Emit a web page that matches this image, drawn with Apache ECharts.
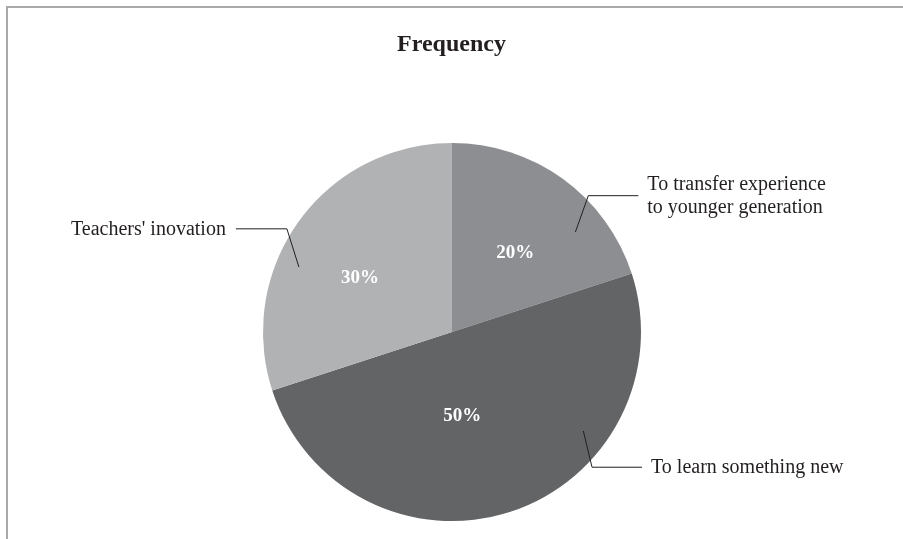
<!DOCTYPE html>
<html>
<head>
<meta charset="utf-8">
<script src="https://cdn.jsdelivr.net/npm/echarts@6/dist/echarts.min.js"></script>
<style>
  html, body { margin: 0; padding: 0; background: #fff; }
  #charts { width: 903px; height: 539px; }
</style>
</head>
<body>
<div id="charts"></div>
<script>
// data
var categories = ['To transfer experience\nto younger generation', 'To learn something new', "Teachers' inovation"];
var values = [20, 50, 30];
var sliceColors = ['#8d8e91', '#636466', '#b1b2b4'];

var CX = 452, CY = 332, R = 189;
var FONT = '"Liberation Serif", "DejaVu Serif", serif';

// leader lines: angle offsets (deg) from the slice middle, radius as fraction of R
var leaders = [
    { startOff: 15, startR: 0.84, bendOff: 9, bendR: 1.02 },
    { startOff: -35, startR: 0.87, bendOff: -28, bendR: 1.03 },
    { startOff: -13, startR: 0.88, bendOff: -4, bendR: 1.03 }
];
// nudges for the percentage labels
var pctNudge = [[6, 0], [-20, -9], [-13, 3]];

var total = values.reduce(function (a, b) { return a + b; }, 0);
var midAngles = [];
var acc = 0;
values.forEach(function (v) {
    midAngles.push((acc + v / 2) / total * 360);
    acc += v;
});

function polar(angleDeg, r) {
    var a = angleDeg * Math.PI / 180;
    return [CX + r * Math.sin(a), CY - r * Math.cos(a)];
}

var pieData = categories.map(function (c, i) {
    return { name: c, value: values[i] };
});

var option = {
    animation: false,
    backgroundColor: '#fff',
    title: {
        text: 'Frequency',
        left: 'center',
        top: 28,
        textStyle: {
            fontFamily: FONT,
            fontWeight: 'bold',
            fontSize: 24,
            color: '#231f20'
        }
    },
    graphic: [{
        type: 'rect',
        shape: { x: 7, y: 7, width: 1200, height: 1200 },
        style: { fill: 'none', stroke: '#a9a9a9', lineWidth: 2 },
        silent: true
    }],
    series: [
        {
            type: 'pie',
            z: 2,
            center: [CX, CY],
            radius: R,
            startAngle: 90,
            clockwise: true,
            color: sliceColors,
            data: pieData,
            label: {
                show: true,
                position: 'inside',
                formatter: '{d}%',
                color: '#fff',
                fontFamily: FONT,
                fontWeight: 'bold',
                fontSize: 19
            },
            labelLine: { show: false },
            labelLayout: function (params) {
                var n = pctNudge[params.dataIndex];
                return { dx: n[0], dy: n[1] };
            },
            emphasis: { disabled: true }
        },
        {
            type: 'pie',
            z: 5,
            center: [CX, CY],
            radius: R,
            startAngle: 90,
            clockwise: true,
            silent: true,
            data: pieData,
            itemStyle: { color: 'rgba(0,0,0,0)' },
            label: {
                show: true,
                position: 'outside',
                formatter: '{b}',
                color: '#231f20',
                fontFamily: FONT,
                fontSize: 20,
                lineHeight: 23
            },
            labelLine: {
                show: true,
                length: 5,
                length2: 5,
                lineStyle: { color: '#231f20', width: 1 }
            },
            labelLayout: function (params) {
                var i = params.dataIndex;
                var ld = leaders[i];
                var mid = midAngles[i];
                var p0 = polar(mid + ld.startOff, R * ld.startR);
                var p1 = polar(mid + ld.bendOff, R * ld.bendR);
                var right = p1[0] > CX;
                var p2 = [p1[0] + (right ? 50 : -51), p1[1]];
                return {
                    x: p2[0] + (right ? 9 : -10),
                    y: p2[1] + 1,
                    align: right ? 'left' : 'right',
                    verticalAlign: 'middle',
                    labelLinePoints: [p0, p1, p2]
                };
            },
            emphasis: { disabled: true }
        }
    ]
};

var myChart = echarts.init(document.getElementById('charts'));
myChart.setOption(option);
</script>
</body>
</html>
